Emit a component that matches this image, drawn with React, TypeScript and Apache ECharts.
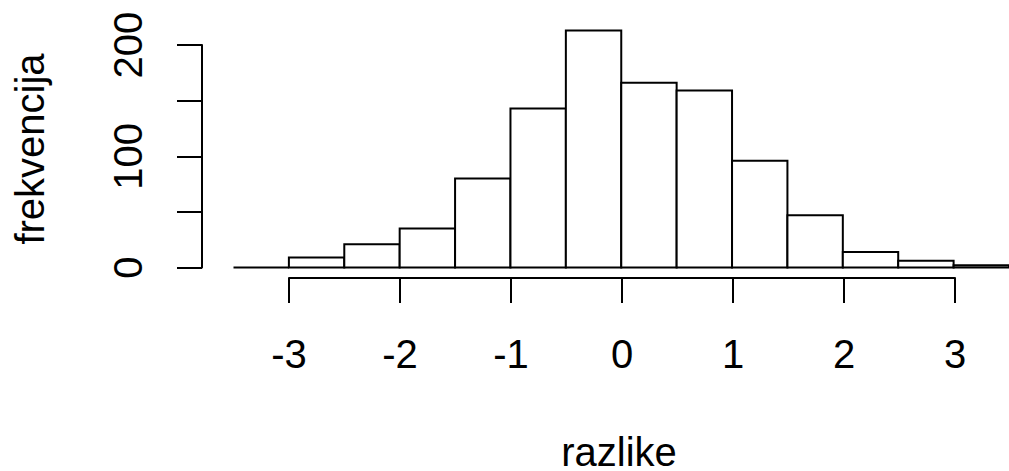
import React, { useEffect, useRef } from "react";
import * as echarts from "echarts";

const binStarts = [-3.5, -3, -2.5, -2, -1.5, -1, -0.5, 0, 0.5, 1, 1.5, 2, 2.5, 3];
const binWidth = 0.5;
const counts = [0, 9, 21, 35, 80, 143, 213, 166, 159, 96, 47, 14, 6, 2];
const xTicks = [-3, -2, -1, 0, 1, 2, 3];
const yTicks = [0, 50, 100, 150, 200];
const yLabeled = [0, 100, 200];
const xTitle = "razlike";
const yTitle = "frekvencija";

const FONT = "Liberation Sans, Arial, sans-serif";

export default function App() {
  const ref = useRef<HTMLDivElement>(null);
  useEffect(() => {
    if (!ref.current) return;
    const chart = echarts.init(ref.current, null, { renderer: "svg" });
    const binData = binStarts.map((s, i) => [s, s + binWidth, counts[i]]);
    const option: any = {
      animation: false,
      backgroundColor: "#fff",
      grid: [
        { left: 233.5, top: 20, width: 777, height: 258 },
        { left: 289, top: 20, width: 666, height: 258 },
        { left: 202, top: 45, width: 100, height: 222.5 },
      ],
      xAxis: [
        { type: "value", gridIndex: 0, min: -3.5, max: 3.5, show: false },
        {
          type: "value",
          gridIndex: 1,
          min: -3,
          max: 3,
          interval: 1,
          splitLine: { show: false },
          axisLine: { show: true, lineStyle: { color: "#000", width: 2 } },
          axisTick: { show: true, length: 25, lineStyle: { color: "#000", width: 2 } },
          axisLabel: {
            show: true,
            margin: 56,
            color: "#000",
            fontSize: 40,
            lineHeight: 40,
            fontFamily: FONT,
            customValues: xTicks,
          },
        },
        { type: "value", gridIndex: 2, min: 0, max: 1, show: false },
      ],
      yAxis: [
        { type: "value", gridIndex: 0, min: -9.438, max: 222.47, show: false },
        { type: "value", gridIndex: 1, min: 0, max: 1, show: false },
        {
          type: "value",
          gridIndex: 2,
          min: 0,
          max: 200,
          interval: 50,
          splitLine: { show: false },
          axisLine: { show: true, lineStyle: { color: "#000", width: 2 } },
          axisTick: { show: true, length: 25, lineStyle: { color: "#000", width: 2 }, customValues: yTicks },
          axisLabel: {
            show: true,
            rotate: 90,
            margin: 54,
            color: "#000",
            fontSize: 40,
            lineHeight: 40,
            fontFamily: FONT,
            formatter: (v: number) => (yLabeled.includes(v) ? String(v) : ""),
          },
        },
      ],
      series: [
        {
          type: "custom",
          xAxisIndex: 0,
          yAxisIndex: 0,
          data: binData,
          renderItem: (params: any, api: any) => {
            const x0 = api.value(0);
            const x1 = api.value(1);
            const c = api.value(2);
            const p0 = api.coord([x0, c]);
            const p1 = api.coord([x1, 0]);
            return {
              type: "rect",
              shape: { x: p0[0], y: p0[1], width: p1[0] - p0[0], height: p1[1] - p0[1] },
              style: { fill: "#fff", stroke: "#000", lineWidth: 2 },
            };
          },
        },
      ],
      graphic: [
        {
          type: "text",
          x: 619,
          y: 452,
          style: {
            text: xTitle,
            fill: "#000",
            font: `40px ${FONT}`,
            lineHeight: 30,
            textAlign: "center",
            textVerticalAlign: "middle",
          },
        },
        {
          type: "text",
          x: 30,
          y: 149,
          rotation: Math.PI / 2,
          style: {
            text: yTitle,
            fill: "#000",
            font: `40px ${FONT}`,
            lineHeight: 40,
            textAlign: "center",
            textVerticalAlign: "middle",
          },
        },
      ],
    };
    chart.setOption(option);
    return () => chart.dispose();
  }, []);
  return (
    <div
      ref={ref}
      style={{ position: "absolute", left: 0, top: 0, width: 1009, height: 471 }}
    />
  );
}
